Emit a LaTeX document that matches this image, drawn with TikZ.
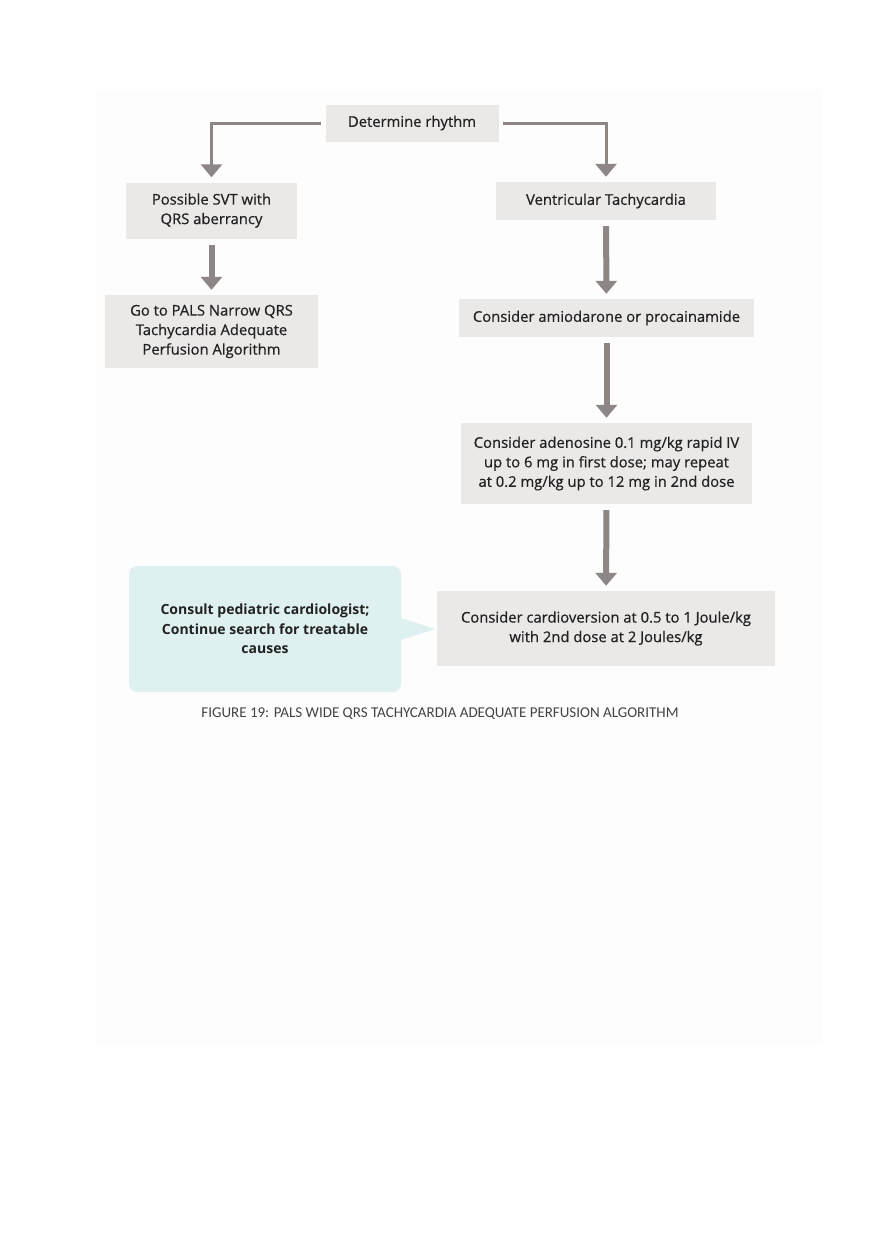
\documentclass[tikz,border=0pt]{standalone}
\usepackage{fontspec}
\setmainfont{Open Sans}
\newfontfamily\boxfont{Open Sans}[FakeBold=0.6]
\newfontfamily\captionfont{Carlito}
\usetikzlibrary{arrows.meta}
\definecolor{boxgray}{HTML}{EBE9E8}
\definecolor{arrowgray}{HTML}{8C8784}
\definecolor{calloutblue}{HTML}{DFF0F0}
\definecolor{textdark}{HTML}{222222}
\tikzset{
  stepbox/.style={fill=boxgray, align=center, inner sep=0pt, text=textdark,
    font=\boxfont\fontsize{14.8}{19.5}\selectfont},
  elbow/.style={draw=arrowgray, line width=3pt, -{Triangle[width=21pt,length=13pt]},
    arrowgray, shorten <=4pt, shorten >=5pt},
  down/.style={draw=arrowgray, line width=6pt, -{Triangle[width=21pt,length=13pt]},
    arrowgray, shorten <=6pt, shorten >=5pt}
}
\begin{document}
\begin{tikzpicture}[x=1pt, y=-1pt]
  \useasboundingbox (0,0) rectangle (880,1247);
  \fill [white] (0,0) rectangle (880,1247);
  \fill [black!0.7] (95,90) rectangle (822,1045);

  \node [stepbox, minimum width=173pt, minimum height=37pt] (rhythm) at (412,123) {Determine rhythm};
  \node [stepbox, minimum width=171pt, minimum height=56pt] (svt) at (211.5,210.5) {Possible SVT with\\QRS aberrancy};
  \node [stepbox, minimum width=220pt, minimum height=38pt] (vt) at (606,201) {Ventricular Tachycardia};
  \node [stepbox, minimum width=213pt, minimum height=73pt] (narrow) at (211.5,331.5) {Go to PALS Narrow QRS\\Tachycardia Adequate\\Perfusion Algorithm};
  \node [stepbox, minimum width=295pt, minimum height=38pt] (amio) at (606.5,318) {Consider amiodarone or procainamide};
  \node [stepbox, minimum width=291pt, minimum height=81pt] (adeno) at (606.5,463.5) {Consider adenosine 0.1 mg/kg rapid IV\\up to 6 mg in first dose; may repeat\\at 0.2 mg/kg up to 12 mg in 2nd dose};
  \node [stepbox, minimum width=338pt, minimum height=75pt] (cardio) at (606,628.5) {Consider cardioversion at 0.5 to 1 Joule/kg\\with 2nd dose at 2 Joules/kg};

  \node [stepbox, fill=calloutblue, rounded corners=8pt, font=\bfseries\fontsize{14}{19.5}\selectfont,
    minimum width=272pt, minimum height=126pt] (consult) at (265,629) {Consult pediatric cardiologist;\\Continue search for treatable\\causes};
  \coordinate (tip) at (435,629);
  \fill [calloutblue] (consult.east |- 0,618) -- (tip) -- (consult.east |- 0,640) -- cycle;

  \node [text=textdark!85, font=\captionfont\fontsize{15}{17}\selectfont] (caption) at (440,714)
    {FIGURE 19: PALS WIDE QRS TACHYCARDIA ADEQUATE PERFUSION ALGORITHM};

  \draw [elbow] (rhythm.west) -| (svt.north);
  \draw [elbow] (rhythm.east) -| (vt.north);
  \draw [down] (svt) -- (narrow);
  \draw [down] (vt) -- (amio);
  \draw [down] (amio) -- (adeno);
  \draw [down] (adeno) -- (cardio);
\end{tikzpicture}
\end{document}
